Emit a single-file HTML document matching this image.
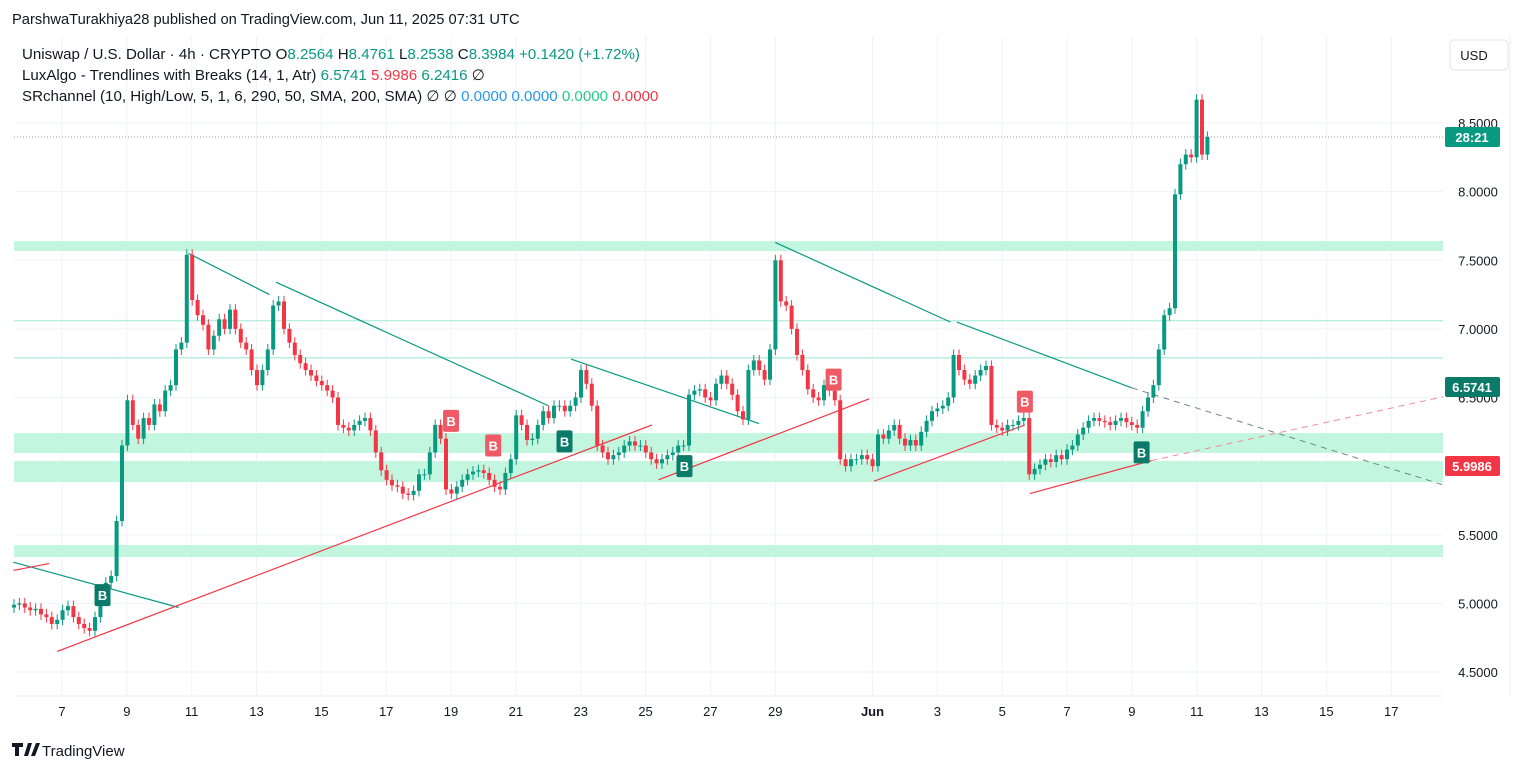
<!DOCTYPE html>
<html><head><meta charset="utf-8"><style>
body{margin:0;background:#fff;font-family:"Liberation Sans",sans-serif;}
#wrap{position:relative;width:1524px;height:772px;overflow:hidden;}
svg text{font-family:"Liberation Sans",sans-serif;}
</style></head><body>
<div id="wrap">
<svg id="c" width="1524" height="772"></svg>
</div>
<script>
const closes=[4.99,5.0,4.97,4.95,4.96,4.92,4.9,4.85,4.88,4.95,
4.98,4.9,4.85,4.82,4.8,4.9,5.06,5.15,5.2,5.6,6.15,
6.48,6.3,6.2,6.35,6.3,6.45,6.4,6.55,6.59,6.85,
6.9,7.54,7.21,7.1,7.03,6.85,6.95,7.07,7.0,7.14,
7.0,6.9,6.85,6.7,6.59,6.7,6.85,7.17,7.2,7.0,
6.9,6.81,6.75,6.7,6.66,6.62,6.59,6.55,6.5,6.3,
6.28,6.26,6.3,6.33,6.35,6.26,6.1,5.97,5.9,5.86,
5.85,5.8,5.79,5.82,5.94,5.94,6.1,6.3,6.2,5.83,
5.8,5.85,5.9,5.94,5.96,5.97,5.95,5.9,5.85,5.83,
5.95,6.05,6.37,6.3,6.19,6.2,6.3,6.4,6.35,6.44,
6.44,6.4,6.44,6.5,6.7,6.6,6.44,6.15,6.1,6.05,
6.08,6.1,6.15,6.18,6.15,6.15,6.1,6.05,6.02,6.05,
6.08,6.1,6.15,6.15,6.52,6.55,6.56,6.5,6.48,6.6,
6.66,6.6,6.52,6.4,6.34,6.7,6.77,6.7,6.63,6.85,
7.5,7.2,7.17,7.0,6.81,6.7,6.56,6.5,6.48,6.59,
6.55,6.48,6.05,6.0,6.05,6.05,6.08,6.05,6.0,6.23,
6.2,6.26,6.3,6.2,6.15,6.19,6.15,6.25,6.33,6.4,
6.42,6.44,6.5,6.81,6.7,6.63,6.6,6.66,6.7,6.73,
6.3,6.28,6.26,6.3,6.3,6.33,6.35,5.94,5.98,6.01,
6.05,6.03,6.08,6.05,6.12,6.15,6.23,6.28,6.33,6.35,
6.33,6.32,6.3,6.33,6.35,6.32,6.3,6.28,6.4,6.5,
6.59,6.85,7.1,7.15,7.98,8.2,8.27,8.25,8.67,8.27,8.3984];
const firstOpen=4.97;
const priceTicks=[8.5,8.0,7.5,7.0,6.5,6.0,5.5,5.0,4.5];
const dateLabels=["7","9","11","13","15","17","19","21","23","25","27","29","Jun","3","5","7","9","11","13","15","17"];
const dateDays=[0,2,4,6,8,10,12,14,16,18,20,22,25,27,29,31,33,35,37,39,41];
const zones=[[7.567,7.64],[5.884,6.037],[6.096,6.241],[5.338,5.425]];
const levels=[7.06,6.79];
const upTrends=[[-1.5,5.3,3.6,4.97],[3.9,7.55,6.4,7.25],[6.6,7.34,15.0,6.44],[15.7,6.78,21.5,6.31],[22.0,7.63,27.4,7.05],[27.6,7.05,33.0,6.57]];
const dnTrends=[[-1.5,5.24,-0.4,5.29],[-0.15,4.65,18.2,6.3],[18.4,5.9,24.9,6.49],[25.05,5.89,29.7,6.3],[29.85,5.8,33.6,6.04]];
const bUp=[[1.25,5.06],[15.5,6.18],[19.2,6.0],[33.3,6.1]];
const bDn=[[12.0,6.33],[13.3,6.15],[23.8,6.63],[29.7,6.47]];

const X=d=>62+d*32.42;
const Y=p=>123+(8.5-p)*137.25;
const CX=i=>14+i*5.4;
const svg=document.getElementById('c');
const NS='http://www.w3.org/2000/svg';
function mk(t,a,p){const e=document.createElementNS(NS,t);for(const k in a)e.setAttribute(k,a[k]);(p||svg).appendChild(e);return e;}
for(const d of dateDays){const g=mk('line',{x1:X(d),x2:X(d),y1:36,y2:696,stroke:'#f0f3fa'});

}
for(const p of priceTicks){const g=mk('line',{x1:14,x2:1443,y1:Y(p),y2:Y(p),stroke:'#f0f3fa'});

}
for(const z of zones){const r=mk('rect',{x:14,width:1429,y:Y(z[1]),height:Y(z[0])-Y(z[1]),fill:'#b9f4d9',opacity:0.85});

}
for(const l of levels){const r=mk('line',{x1:14,x2:1443,y1:Y(l),y2:Y(l),stroke:'#b9ede0','stroke-width':1.5});

}
const cp=mk('line',{x1:14,x2:1443,y1:Y(8.3984),y2:Y(8.3984),stroke:'#999','stroke-dasharray':'1 2'});


for(const t of upTrends){const l=mk('line',{x1:X(t[0]),y1:Y(t[1]),x2:X(t[2]),y2:Y(t[3]),stroke:'#089981','stroke-width':1.2});

}
for(const t of dnTrends){const l=mk('line',{x1:X(t[0]),y1:Y(t[1]),x2:X(t[2]),y2:Y(t[3]),stroke:'#f23645','stroke-width':1.2});

}
const dl1=mk('line',{x1:X(33),y1:Y(6.57),x2:1515,y2:Y(5.7),stroke:'#6a8a80','stroke-dasharray':'6 5'});


const dl2=mk('line',{x1:X(33.6),y1:Y(6.04),x2:1515,y2:Y(6.62),stroke:'#f28a95','stroke-dasharray':'6 5'});


for(let i=0;i<closes.length;i++){
 const o=i?closes[i-1]:firstOpen,c=closes[i];const up=c>=o;const col=up?'#089981':'#f23645';
 const hi=Math.max(o,c)+0.04,lo=Math.min(o,c)-0.04;const x=CX(i);
 const g=mk('g',{});
 
 
 mk('line',{x1:x,x2:x,y1:Y(hi),y2:Y(lo),stroke:col},g);
 mk('rect',{x:x-2,width:4,y:Y(Math.max(o,c)),height:Math.max(1,Math.abs(Y(o)-Y(c))),fill:col},g);
}
function blabel(d,p,col,name){const g=mk('g',{});
 
 
 mk('rect',{x:X(d)-8,y:Y(p)-11,width:16,height:22,rx:2,fill:col},g);
 const t=mk('text',{x:X(d),y:Y(p)+5,'text-anchor':'middle','font-size':13,'font-weight':'bold',fill:'#fff'},g);t.textContent='B';}
for(const b of bUp)blabel(b[0],b[1],'#0b7a68','break-label-bullish');
for(const b of bDn)blabel(b[0],b[1],'#f05a66','break-label-bearish');
const ax=mk('rect',{x:1443,y:36,width:81,height:660,fill:'#fff'});


mk('line',{x1:1510,x2:1510,y1:36,y2:696,stroke:'#eee'});
for(const p of priceTicks){const t=mk('text',{x:1478,y:Y(p)+5,'text-anchor':'middle','font-size':13,fill:'#131722'});t.textContent=p.toFixed(4);

}
function badge(y,txt,col,name){const g=mk('g',{});
 
 
 mk('rect',{x:1445,y:y-10,width:55,height:20,rx:2,fill:col},g);
 const t=mk('text',{x:1472,y:y+5,'text-anchor':'middle','font-size':13,'font-weight':'bold',fill:'#fff'},g);t.textContent=txt;}
badge(137,'28:21','#089981','countdown-badge');
badge(387,'6.5741','#0b7a68','trendline-value-badge');
badge(466,'5.9986','#f23645','trendline-value-badge-red');
const usd=mk('rect',{x:1450,y:40,width:58,height:30,rx:4,fill:'#fff',stroke:'#e0e3eb'});


const ut=mk('text',{x:1474,y:60,'text-anchor':'middle','font-size':13,fill:'#131722'});ut.textContent='USD';
mk('line',{x1:14,x2:1443,y1:696,y2:696,stroke:'#eee'});
for(let i=0;i<dateLabels.length;i++){const t=mk('text',{x:X(dateDays[i]),y:716,'text-anchor':'middle','font-size':13,fill:'#131722','font-weight':dateLabels[i]==='Jun'?'bold':'normal'});t.textContent=dateLabels[i];

}
function txt(x,y,s,fs,col,name,w){const t=mk('text',{x:x,y:y,'font-size':fs,fill:col,'font-weight':w||'normal'});t.innerHTML=s;

return t;}
txt(12,24,'ParshwaTurakhiya28 published on TradingView.com, Jun 11, 2025 07:31 UTC',14.7,'#131722','publish-info');
txt(22,59,'Uniswap / U.S. Dollar · 4h · CRYPTO <tspan fill="#131722">O</tspan><tspan fill="#089981">8.2564</tspan> <tspan fill="#131722">H</tspan><tspan fill="#089981">8.4761</tspan> <tspan fill="#131722">L</tspan><tspan fill="#089981">8.2538</tspan> <tspan fill="#131722">C</tspan><tspan fill="#089981">8.3984 +0.1420 (+1.72%)</tspan>',15.1,'#131722','symbol-legend');
txt(22,80,'LuxAlgo - Trendlines with Breaks (14, 1, Atr) <tspan fill="#089981">6.5741</tspan> <tspan fill="#f23645">5.9986</tspan> <tspan fill="#089981">6.2416</tspan> ∅',15.1,'#131722','luxalgo-legend');
txt(22,101,'SRchannel (10, High/Low, 5, 1, 6, 290, 50, SMA, 200, SMA) ∅ ∅ <tspan fill="#2196f3">0.0000</tspan> <tspan fill="#2196f3">0.0000</tspan> <tspan fill="#22c98a">0.0000</tspan> <tspan fill="#f23645">0.0000</tspan>',15.1,'#131722','srchannel-legend');
const lg=mk('g',{});


mk('path',{d:'M12 743h11v4h-4v9h-4v-9h-3z M24 756l4-13h4l-4 13z M31 756l5-13h4l-5 13z',fill:'#131722'},lg);
const lt=mk('text',{x:42,y:756,'font-size':15,fill:'#131722'},lg);lt.textContent='TradingView';
</script>
</body></html>
